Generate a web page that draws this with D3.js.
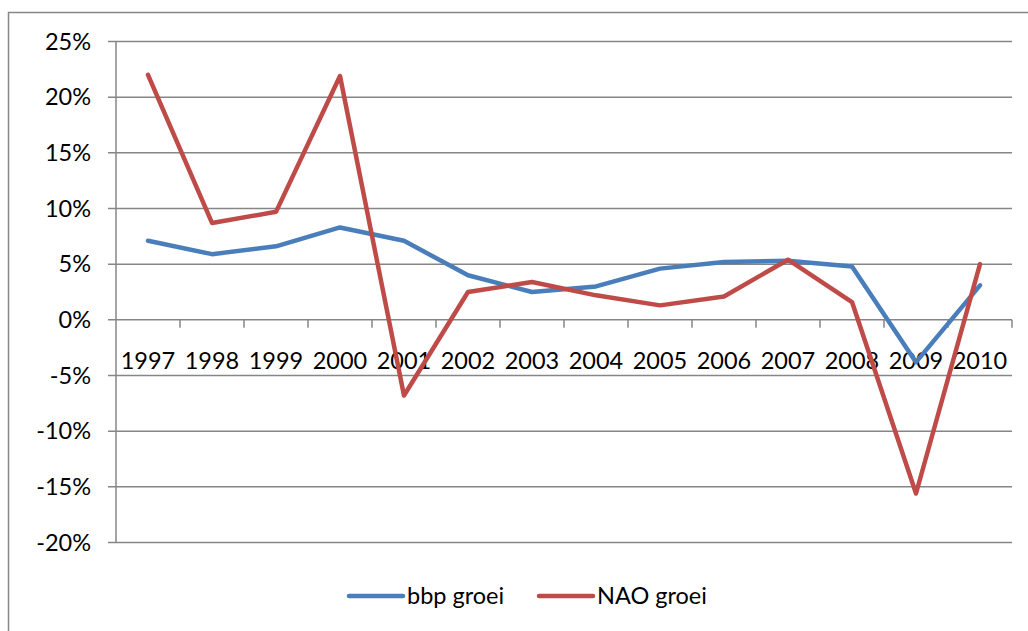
<!DOCTYPE html>
<html>
<head>
<meta charset="utf-8">
<script src="https://cdn.jsdelivr.net/npm/d3@7"></script>
<style>
  body { margin: 0; background: #fff; }
  text { font-family: Lato, "Open Sans", sans-serif; fill: #000; }
</style>
</head>
<body>
<svg id="chart" width="1028" height="631"></svg>
<script>
// data
var years = ["1997","1998","1999","2000","2001","2002","2003","2004","2005","2006","2007","2008","2009","2010"];
var bbpGroei = [7.1, 5.9, 6.6, 8.3, 7.1, 4.0, 2.5, 3.0, 4.6, 5.2, 5.3, 4.8, -3.8, 3.1];
var naoGroei = [22.0, 8.7, 9.7, 21.9, -6.8, 2.5, 3.4, 2.2, 1.3, 2.1, 5.4, 1.6, -15.6, 5.0];
var yTicks = [25, 20, 15, 10, 5, 0, -5, -10, -15, -20];
var seriesNames = ["bbp groei", "NAO groei"];
var seriesColors = ["#4a7ebb", "#be4b48"];

var svg = d3.select("#chart");
var plotLeft = 116, plotRight = 1012, plotTop = 41.5, plotBottom = 542.5;
var gridColor = "#868686";
var fontSize = 23.5;

// outer frame (only top and left show)
svg.append("path").attr("d", "M8.5,631 V12.5 H1028")
	.attr("fill", "none").attr("stroke", gridColor).attr("stroke-width", 1.5);

var x = d3.scaleBand().domain(years).range([plotLeft, plotRight]);
var y = d3.scaleLinear().domain([-20, 25]).range([plotBottom, plotTop]);

// gridlines + y labels
var yAxis = svg.append("g");
yAxis.selectAll("line").data(yTicks).enter().append("line")
	.attr("x1", plotLeft - 8).attr("x2", plotRight)
	.attr("y1", function(d){ return y(d); }).attr("y2", function(d){ return y(d); })
	.attr("stroke", gridColor).attr("stroke-width", 1.5);
yAxis.selectAll("text").data(yTicks).enter().append("text")
	.attr("x", 91).attr("y", function(d){ return y(d); })
	.attr("dy", "0.35em").attr("text-anchor", "end").attr("font-size", fontSize)
	.text(function(d){ return d + "%"; });

svg.append("line").attr("x1", plotLeft).attr("x2", plotLeft).attr("y1", plotTop).attr("y2", plotBottom)
	.attr("stroke", gridColor).attr("stroke-width", 1.5);

// category axis at 0%
var xAxis = svg.append("g");
xAxis.selectAll("line").data(years).enter().append("line")
	.attr("x1", function(d){ return x(d) + x.bandwidth(); })
	.attr("x2", function(d){ return x(d) + x.bandwidth(); })
	.attr("y1", y(0)).attr("y2", y(0) + 8)
	.attr("stroke", gridColor).attr("stroke-width", 1.5);
xAxis.selectAll("text").data(years).enter().append("text")
	.attr("x", function(d){ return x(d) + x.bandwidth() / 2; })
	.attr("y", 361).attr("dy", "0.35em").attr("text-anchor", "middle").attr("font-size", fontSize)
	.text(function(d){ return d; });

// lines
var line = d3.line()
	.x(function(d, i){ return x(years[i]) + x.bandwidth() / 2; })
	.y(function(d){ return y(d); });

[bbpGroei, naoGroei].forEach(function(s, k){
	svg.append("path").datum(s).attr("d", line)
		.attr("fill", "none").attr("stroke", seriesColors[k])
		.attr("stroke-width", 4.5).attr("stroke-linejoin", "round").attr("stroke-linecap", "round");
});

// legend
var legendX = [349, 539];
seriesNames.forEach(function(n, k){
	var g = svg.append("g").attr("transform", "translate(" + legendX[k] + ",596)");
	g.append("line").attr("x1", 0).attr("x2", 54)
		.attr("stroke", seriesColors[k]).attr("stroke-width", 4.5).attr("stroke-linecap", "round");
	g.append("text").attr("x", 58).attr("dy", "0.35em").attr("font-size", fontSize).text(n);
});
</script>
</body>
</html>
